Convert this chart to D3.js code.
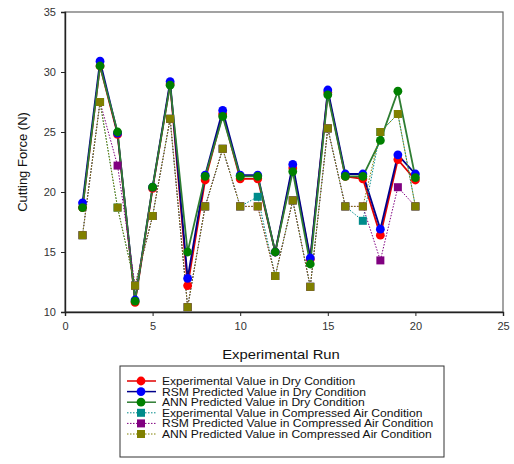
<!DOCTYPE html>
<html>
<head>
<meta charset="utf-8">
<script src="https://cdn.jsdelivr.net/npm/d3@7"></script>
<style>
  body { margin: 0; background: #fff; }
  svg { font-family: "Liberation Sans", Arial, sans-serif; }
</style>
</head>
<body>
<div id="chart"></div>
<script>
const runs = d3.range(1, 21);

// dry condition
const expDry = [18.7, 30.5, 24.8, 10.8, 20.3, 29.0, 12.2, 21.0, 26.5, 21.1, 21.1, 15.0, 22.0, 14.4, 28.3, 21.3, 21.1, 16.4, 22.7, 21.0];
const rsmDry = [19.1, 30.9, 24.9, 11.0, 20.4, 29.2, 12.8, 21.4, 26.8, 21.4, 21.4, 15.0, 22.3, 14.5, 28.5, 21.5, 21.5, 16.9, 23.1, 21.5];
const annDry = [18.7, 30.5, 25.0, 10.9, 20.4, 28.9, 15.0, 21.3, 26.3, 21.3, 21.3, 15.0, 21.7, 14.0, 28.1, 21.3, 21.3, 24.3, 28.4, 21.2];

// compressed air condition
const expAir = [16.4, 27.5, 18.7, 12.2, 18.0, 26.1, 10.4, 18.8, 23.6, 18.8, 19.6, 13.0, 19.3, 12.1, 25.3, 18.8, 17.6, 25.0, 26.5, 18.8];
const rsmAir = [16.4, 27.5, 22.2, 12.2, 18.0, 26.1, 10.4, 18.8, 23.6, 18.8, 18.8, 13.0, 19.3, 12.1, 25.3, 18.8, 18.8, 14.3, 20.4, 18.8];
const annAir = [16.4, 27.5, 18.7, 12.2, 18.0, 26.1, 10.4, 18.8, 23.6, 18.8, 18.8, 13.0, 19.3, 12.1, 25.3, 18.8, 18.8, 25.0, 26.5, 18.8];

const seriesNames = [
  "Experimental Value in Dry Condition",
  "RSM Predicted Value in Dry Condition",
  "ANN Predicted Value in Dry Condition",
  "Experimental Value in Compressed Air Condition",
  "RSM Predicted Value in Compressed Air Condition",
  "ANN Predicted Value in Compressed Air Condition"
];
const xTicks = [0, 5, 10, 15, 20, 25];
const yTicks = [10, 15, 20, 25, 30, 35];

const series = [
  { name: seriesNames[0], values: expDry, color: "#ff0000", line: "#e00000", shape: "circle", dotted: false },
  { name: seriesNames[1], values: rsmDry, color: "#0000ff", line: "#00008b", shape: "circle", dotted: false },
  { name: seriesNames[2], values: annDry, color: "#008000", line: "#2e7d32", shape: "circle", dotted: false },
  { name: seriesNames[3], values: expAir, color: "#008b8b", line: "#008b8b", shape: "square", dotted: true },
  { name: seriesNames[4], values: rsmAir, color: "#800080", line: "#800080", shape: "square", dotted: true },
  { name: seriesNames[5], values: annAir, color: "#808000", line: "#808000", shape: "square", dotted: true }
];

const width = 514, height = 464;
const margin = { top: 12, right: 11, bottom: 152, left: 65 };
const w = width - margin.left - margin.right;
const h = height - margin.top - margin.bottom;

const svg = d3.select("#chart").append("svg")
  .attr("width", width)
  .attr("height", height);

const g = svg.append("g")
  .attr("transform", `translate(${margin.left},${margin.top})`);

const x = d3.scaleLinear().domain([0, 25]).range([0, w]);
const y = d3.scaleLinear().domain([10, 35]).range([h, 0]);

// frame (top/right)
g.append("rect")
  .attr("width", w).attr("height", h)
  .attr("fill", "none").attr("stroke", "#666").attr("stroke-width", 1.2);

// axes
const xAxis = g.append("g")
  .attr("transform", `translate(0,${h})`)
  .call(d3.axisBottom(x).tickValues(xTicks).tickSize(4).tickPadding(6));
const yAxis = g.append("g")
  .call(d3.axisLeft(y).tickValues(yTicks).tickSize(4).tickPadding(5));

[xAxis, yAxis].forEach(a => {
  a.select(".domain").attr("stroke", "#222").attr("stroke-width", 1.4);
  a.selectAll(".tick line").attr("stroke", "#222");
  a.selectAll("text").attr("font-size", 11).attr("fill", "#333");
});

// lines
const line = d3.line()
  .x((d, i) => x(runs[i]))
  .y(d => y(d));

series.forEach(s => {
  g.append("path")
    .datum(s.values)
    .attr("fill", "none")
    .attr("stroke", s.line)
    .attr("stroke-width", s.dotted ? 1 : 1.8)
    .attr("stroke-dasharray", s.dotted ? "1.5,1.5" : null)
    .attr("d", line);
});

// markers
function drawMarker(sel, s, cx, cy) {
  if (s.shape === "circle") {
    sel.append("circle")
      .attr("cx", cx).attr("cy", cy).attr("r", 4.4)
      .attr("fill", s.color);
  } else {
    sel.append("rect")
      .attr("x", cx - 4).attr("y", cy - 4)
      .attr("width", 8).attr("height", 8)
      .attr("fill", s.color);
  }
}

series.forEach(s => {
  const mg = g.append("g");
  s.values.forEach((v, i) => drawMarker(mg, s, x(runs[i]), y(v)));
});

// axis titles (source image is slightly stretched horizontally)
svg.append("text")
  .attr("transform", `translate(${margin.left + w / 2 - 3},359) scale(1.14,1)`)
  .attr("text-anchor", "middle")
  .attr("font-size", 13)
  .attr("fill", "#111")
  .text("Experimental Run");

svg.append("text")
  .attr("transform", `translate(27,${margin.top + h / 2}) rotate(-90)`)
  .attr("text-anchor", "middle")
  .attr("font-size", 13)
  .attr("fill", "#111")
  .text("Cutting Force (N)");

// legend
const legend = svg.append("g").attr("transform", "translate(120,366)");
legend.append("rect")
  .attr("width", 324).attr("height", 91)
  .attr("fill", "#fff").attr("stroke", "#333").attr("stroke-width", 1);

series.forEach((s, i) => {
  const ly = 15 + i * 10.6;
  const row = legend.append("g");
  row.append("line")
    .attr("x1", 7).attr("x2", 36)
    .attr("y1", ly).attr("y2", ly)
    .attr("stroke", s.line)
    .attr("stroke-width", s.dotted ? 1 : 1.5)
    .attr("stroke-dasharray", s.dotted ? "1.5,1.5" : null);
  drawMarker(row, s, 21, ly);
  row.append("text")
    .attr("transform", `translate(42,${ly + 3.9}) scale(1.1,1)`)
    .attr("font-size", 11)
    .attr("fill", "#111")
    .text(s.name);
});
</script>
</body>
</html>
